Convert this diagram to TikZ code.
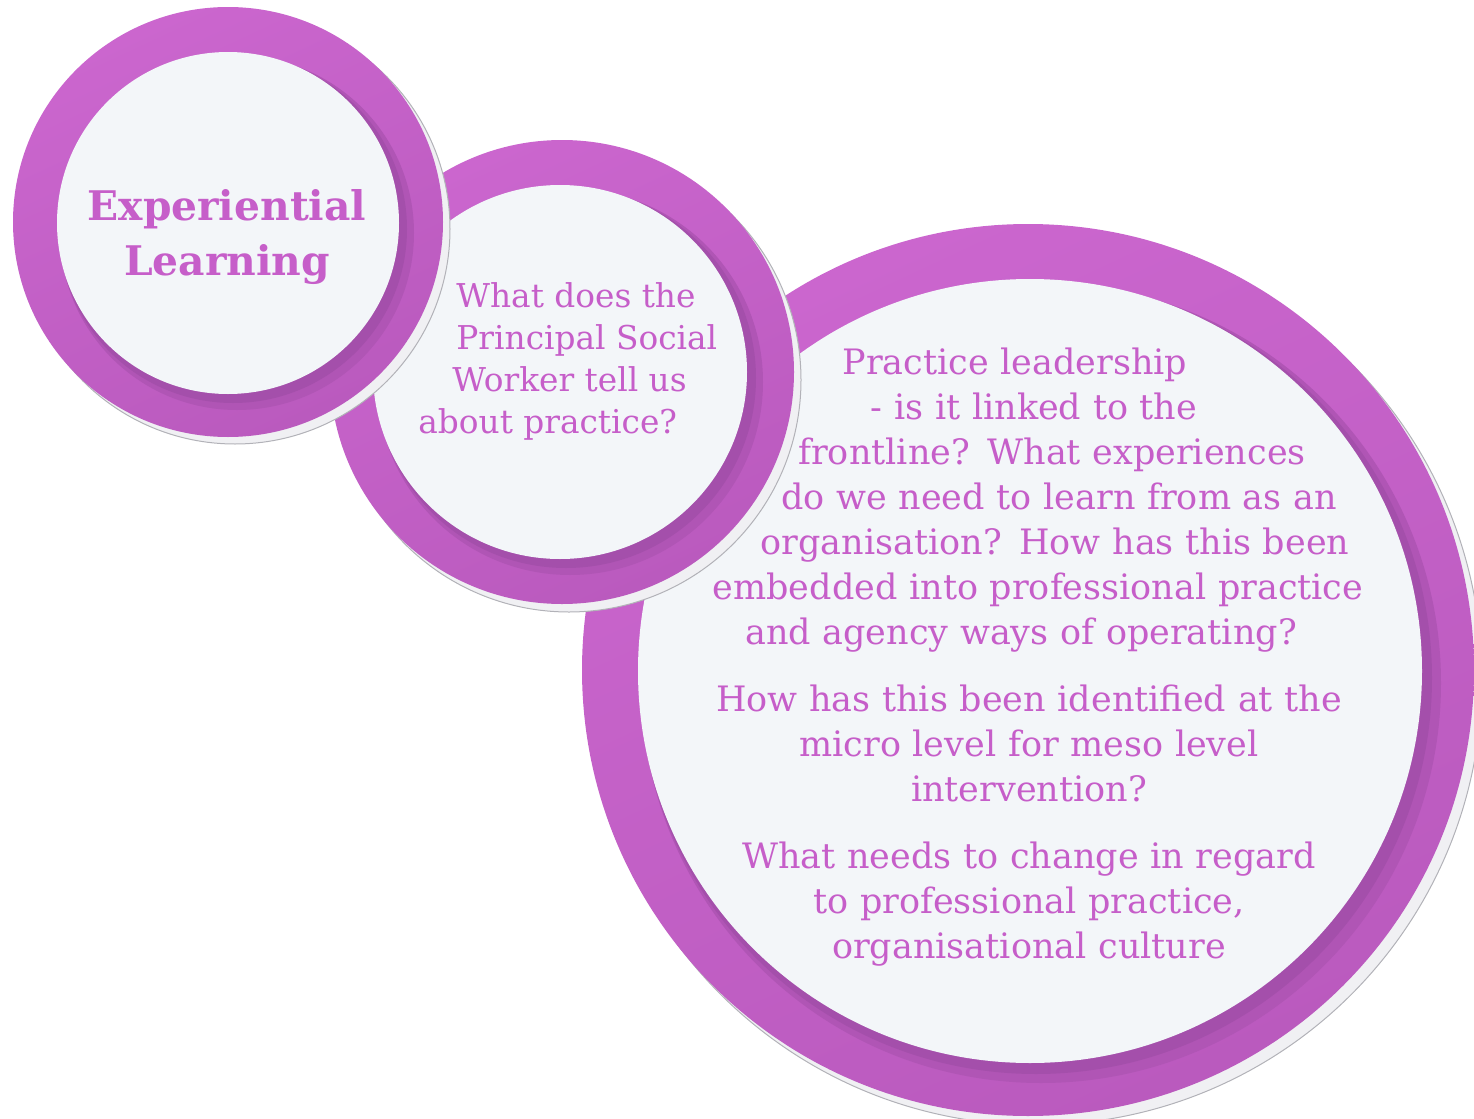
\documentclass[tikz,border=0pt]{standalone}
\usepackage{fontspec}
\setmainfont{DejaVu Serif}
\usetikzlibrary{positioning}
\definecolor{ringtop}{RGB}{203,102,206}
\definecolor{ringbottom}{RGB}{186,90,190}
\definecolor{ringshade}{RGB}{164,79,171}
\definecolor{corewhite}{RGB}{243,246,249}
\definecolor{dropgrey}{RGB}{240,240,243}
\definecolor{dropedge}{RGB}{178,178,184}
\definecolor{wordpurple}{RGB}{198,94,201}
\tikzset{
  drop/.style={circle, inner sep=0pt, fill=dropgrey, draw=dropedge, line width=0.5pt},
  ring/.style={circle, inner sep=0pt, top color=ringtop, bottom color=ringbottom, shading angle=25},
  halo/.style={circle, inner sep=0pt, fill=ringbottom!55!ringshade},
  glow/.style={circle, inner sep=0pt, fill=ringshade},
  core/.style={circle, inner sep=0pt, fill=corewhite},
  words/.style={text=wordpurple, inner sep=0pt, font=\fontsize{16.4}{21}\selectfont}
}
\newcommand{\nudge}[1]{\hspace*{#1}}

\begin{document}
\begin{tikzpicture}[x=0.5pt, y=-0.5pt]
  \useasboundingbox (0,0) rectangle (1474,1119);
  % Practice leadership circle
  \node[drop, minimum size=446pt] (practiceDrop) at (1036,679) {};
  \node[ring, minimum size=446pt] (practiceRing) at (1028,670) {};
  \node[halo, minimum size=400pt] (practiceHalo) at (1041,683) {};
  \node[glow, minimum size=396pt] (practiceGlow) at (1036,678) {};
  \node[core, minimum size=392pt] (practiceCore) at (1030,671) {};
  % Principal Social Worker circle
  \node[drop, minimum size=232pt] (workerDrop) at (569,380) {};
  \node[ring, minimum size=232pt] (workerRing) at (562,372) {};
  \node[halo, minimum size=193pt] (workerHalo) at (570,382) {};
  \node[glow, minimum size=190pt] (workerGlow) at (566,378) {};
  \node[core, minimum size=187pt] (workerCore) at (560,372) {};
  % Experiential Learning circle
  \node[drop, minimum size=215pt] (learningDrop) at (235,229) {};
  \node[ring, minimum size=215pt] (learningRing) at (228,222) {};
  \node[halo, minimum size=177pt] (learningHalo) at (237,233) {};
  \node[glow, minimum size=174pt] (learningGlow) at (233,229) {};
  \node[core, minimum size=171pt] (learningCore) at (228,223) {};
  % Place texts
  \node[words, anchor=base, align=center, text width=380pt,
        font=\fontsize{17.5}{22.5}\selectfont] (practiceText) at (1029,374)
    {\nudge{-14pt}Practice leadership\\
     \nudge{5pt}- is it linked to the\\
     \nudge{23pt}frontline? What experiences\\
     \nudge{30pt}do we need to learn from as an\\
     \nudge{26pt}organisation? How has this been\\
     \nudge{9pt}embedded into professional practice\\
     \nudge{-8pt}and agency ways of operating?\\[11pt]
     How has this been identified at the\\
     micro level for meso level\\
     intervention?\\[11pt]
     What needs to change in regard\\
     to professional practice,\\
     organisational culture};
  \node[words, anchor=base west, align=left] (workerText) at (456,433)
    {What does the\\
     Principal Social\\
     \nudge{-2pt}Worker tell us\\
     \nudge{-19pt}about practice?};
  \node[words, anchor=base, align=center,
        font=\bfseries\fontsize{20.4}{27.5}\selectfont] (learningText) at (227,275)
    {Experiential\\Learning};
\end{tikzpicture}
\end{document}
